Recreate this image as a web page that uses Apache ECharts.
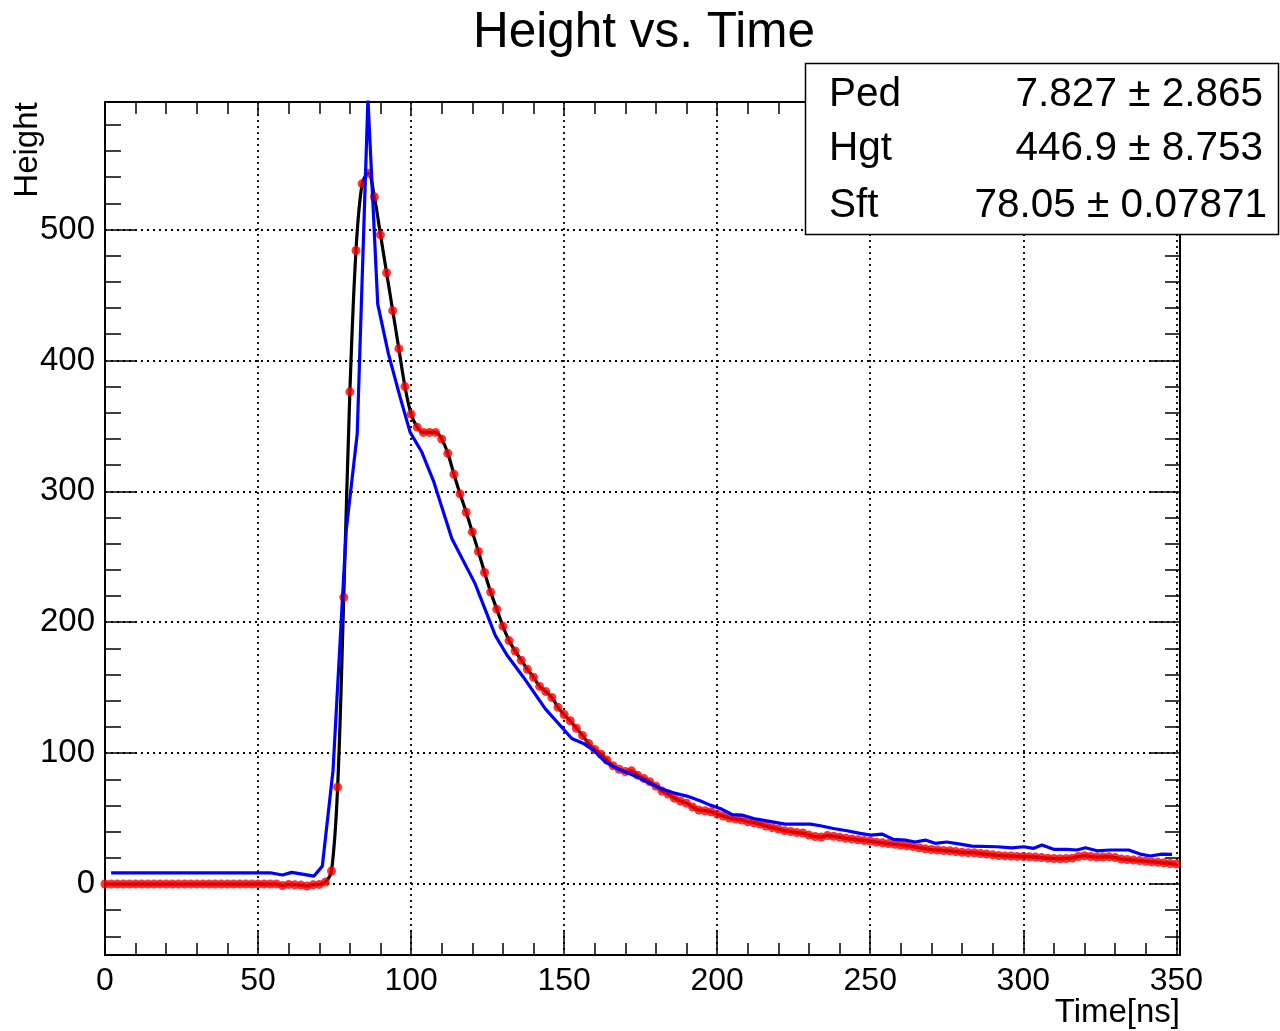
<!DOCTYPE html>
<html>
<head>
<meta charset="utf-8">
<script src="https://cdn.jsdelivr.net/npm/echarts@6/dist/echarts.min.js"></script>
<style>
html,body{margin:0;padding:0;background:#fff;}
#chart{width:1280px;height:1031px;}
</style>
</head>
<body>
<div id="chart"></div>
<script>
// ---- Data ----
const redTime = [0,2,4,6,8,10,12,14,16,18,20,22,24,26,28,30,32,34,36,38,40,42,44,46,48,50,52,54,56,58,
  60,62,64,66,68,70,72,74,76,78,80,82,84,86,88,90,92,94,96,98,100,102,104,106,108,110,112,114,116,118,
  120,122,124,126,128,130,132,134,136,138,140,142,144,146,148,150,152,154,156,158,160,162,164,166,168,170,172,174,176,178,
  180,182,184,186,188,190,192,194,196,198,200,202,204,206,208,210,212,214,216,218,220,222,224,226,228,230,232,234,236,238,
  240,242,244,246,248,250,252,254,256,258,260,262,264,266,268,270,272,274,276,278,280,282,284,286,288,290,292,294,296,298,
  300,302,304,306,308,310,312,314,316,318,320,322,324,326,328,330,332,334,336,338,340,342,344,346,348,350];
const redVal = [0,0,0,0,0,0,0,0,0,0,0,0,0,0,0,0,0,0,0,0,0,0,0,0,0,0,0,0,0,
  -1.2,-0.3,-0.5,-0.8,-1.5,-0.6,-0.3,1.5,
  10,74,219,376,484,535,543,525,496,467,
  438,409,380,359,349,345,345,345,340,329,
  313,298,284,269,254,238,223,210,197,186,
  178,171,164,158,151,147,142.5,135,129.5,124.7,
  119,113.5,107.4,102.8,99.2,94.7,90.3,87.6,86,86.5,
  83.2,80.7,78.1,74.8,71,68.7,65.6,63.4,61.8,58.8,
  56.5,56,55.2,53.4,51.9,50.4,49.6,48.9,47.6,46.8,
  45.8,44.3,43.1,42,40.8,40.1,39.3,38.9,37.4,36.3,
  35.9,37,36.5,35.8,35,34.5,33.8,33.2,32.8,32,
  31.5,30.9,30.4,29.8,29.2,28.6,27.7,27,26.4,26,
  25.6,25.4,24.8,24.2,24,23.9,23.3,22.9,22.3,21.8,
  21.5,21.4,21.1,21,20.8,20.6,20.2,19.8,19.5,19.3,
  19.5,19.8,21,21.6,21,20.6,20.7,20.8,20.2,19.1,
  18.7,18.3,17.9,17.4,16.9,16.6,16.2,15.7,15.3];

const blueTime = [2,54,58,61,68.3,71,74.5,78.8,82.4,85.9,89.1,92.6,96.4,99.7,103.5,107.3,113.3,120.9,127.5,131.3,
  136.7,143.8,152.5,156.3,159.6,163.4,167.2,171.6,174.3,178.1,182.4,185.7,190.1,194.4,197.7,201,204.8,208.1,211.9,216.2,
  222.2,230.4,233.7,238,242.4,246.7,250.2,253.8,257.6,261.4,264.7,268,271.2,275,279.4,283.2,291.4,296.3,300.1,303.4,
  306.1,309.9,314.3,317.5,320.3,324.1,328.4,334.4,338.2,341.5,345.3,348.6];
const blueVal = [8.6,8.6,6.9,8.9,6.1,13.7,87,270,344,600,443,405,372,345,330,308,264,229.5,190,175,
  158,134,111.2,107.4,102.3,93.4,88.3,84,81.4,76.8,72.3,69.7,67.2,63.6,60.3,57.7,53.1,52.7,50.1,48.3,
  45.8,45.8,44.5,42.4,40.7,38.7,37.4,38.2,34.1,33.6,32.1,33.6,31.1,32.1,30.5,29,28.5,27.7,28.5,27.3,
  29.8,26.5,26.5,26,27.7,25.4,26,26,22.9,21.4,22.9,22.7];

const statNames = ['Ped', 'Hgt', 'Sft'];
const statValues = ['7.827 \u00b1 2.865', '446.9 \u00b1 8.753', '78.05 \u00b1 0.07871'];

const X_MIN = 0, X_MAX = 351.2;
const Y_MIN = -54.2, Y_MAX = 597.4;

// ---- Chart ----
const FONT = "'Liberation Sans', Arial, Helvetica, sans-serif";
const chart = echarts.init(document.getElementById('chart'), null, {renderer: 'canvas'});

const dotted = {show: true, showMinLine: false, showMaxLine: false,
  lineStyle: {color: '#000', width: 1.8, type: [2, 4]}};

function xAx(pos, interval, tickLen, withLabels, withSplit, withLine) {
  return {
    type: 'value', position: pos, min: X_MIN, max: X_MAX, interval: interval,
    axisLine: {show: withLine, onZero: false, lineStyle: {color: '#000', width: 2}},
    axisTick: {show: true, inside: true, length: tickLen, lineStyle: {color: '#000', width: 1.5}},
    axisLabel: {show: withLabels, margin: 10, fontSize: 32, color: '#000', fontFamily: FONT,
      formatter: v => (Math.abs(v % 50) < 1e-6 ? String(v) : '')},
    splitLine: withSplit ? dotted : {show: false}
  };
}
function yAx(pos, splitNumber, tickLen, withLabels, withSplit, withLine) {
  return {
    type: 'value', position: pos, min: Y_MIN, max: Y_MAX, splitNumber: splitNumber,
    axisLine: {show: withLine, onZero: false, lineStyle: {color: '#000', width: 2}},
    axisTick: {show: true, inside: true, length: tickLen, lineStyle: {color: '#000', width: 1.5}},
    axisLabel: {show: withLabels, margin: 10, fontSize: 33, color: '#000', fontFamily: FONT,
      formatter: v => (Math.abs(v % 100) < 1e-6 ? String(Math.round(v)) : '')},
    splitLine: withSplit ? dotted : {show: false}
  };
}

const graphicEls = [
  {type: 'text', x: 1180, y: 1013, z: 10,
    style: {text: 'Time[ns]', fontSize: 33, fontFamily: FONT, fill: '#000', align: 'right', verticalAlign: 'middle'}},
  {type: 'text', x: 28, y: 150, rotation: Math.PI / 2, z: 10,
    style: {text: 'Height', fontSize: 33, fontFamily: FONT, fill: '#000', align: 'center', verticalAlign: 'middle'}},
  {type: 'rect', z: 20, shape: {x: 805.5, y: 63.5, width: 473, height: 171},
    style: {fill: '#fff', stroke: '#000', lineWidth: 1.5}}
];
const rowY = [95, 149, 206];
const valRight = [1263, 1263, 1267];
statNames.forEach((n, i) => {
  graphicEls.push({type: 'text', x: 829, y: rowY[i], z: 21,
    style: {text: n, fontSize: 40.5, fontFamily: FONT, fill: '#000', align: 'left', verticalAlign: 'middle'}});
  graphicEls.push({type: 'text', x: valRight[i], y: rowY[i], z: 21,
    style: {text: statValues[i], fontSize: 40.5, fontFamily: FONT, fill: '#000', align: 'right', verticalAlign: 'middle'}});
});

const option = {
  animation: false,
  backgroundColor: '#fff',
  title: {text: 'Height vs. Time', left: 639, top: 3, textAlign: 'center',
    textStyle: {fontSize: 49.5, fontWeight: 'normal', color: '#000', fontFamily: FONT}},
  grid: {left: 105, right: 100, top: 102, bottom: 76, show: true, borderColor: '#000', borderWidth: 2,
    backgroundColor: '#fff', containLabel: false},
  xAxis: [
    xAx('bottom', 50, 25, true, true, true),
    xAx('bottom', 10, 12, false, false, false),
    xAx('top', 50, 12, false, false, false),
    xAx('top', 10, 12, false, false, false)
  ],
  yAxis: [
    yAx('left', 6, 31, true, true, true),
    yAx('left', 32, 16, false, false, false),
    yAx('right', 6, 30, false, false, false),
    yAx('right', 32, 15, false, false, false)
  ],
  series: [
    {name: 'fit', type: 'line', xAxisIndex: 0, yAxisIndex: 0, data: redTime.map((t, i) => [t, redVal[i]]),
      smooth: 0.35, showSymbol: false, clip: true, lineStyle: {color: '#000', width: 3.2}, z: 2},
    {name: 'data', type: 'scatter', xAxisIndex: 0, yAxisIndex: 0, data: redTime.map((t, i) => [t, redVal[i]]),
      symbol: 'circle', symbolSize: 9, itemStyle: {color: '#ff0000'}, clip: true, z: 3},
    {name: 'ref', type: 'line', xAxisIndex: 0, yAxisIndex: 0, data: blueTime.map((t, i) => [t, blueVal[i]]),
      showSymbol: false, clip: true, lineStyle: {color: '#0000ff', width: 3.2}, z: 4}
  ],
  graphic: graphicEls
};
chart.setOption(option);
</script>
</body>
</html>
